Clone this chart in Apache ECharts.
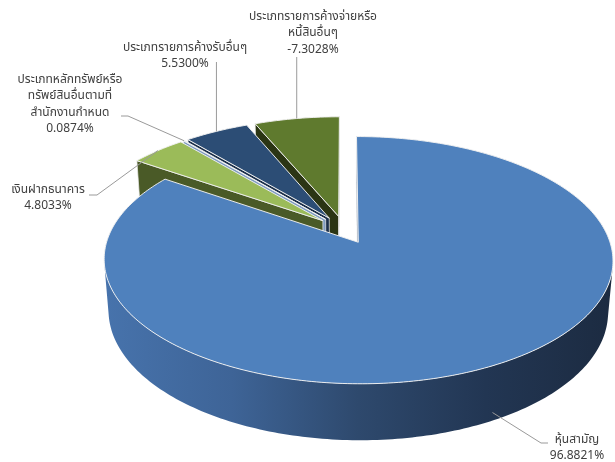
<!DOCTYPE html>
<html>
<head>
<meta charset="utf-8">
<script src="https://cdn.jsdelivr.net/npm/echarts@6/dist/echarts.min.js"></script>
<style>
  html, body { margin: 0; padding: 0; background: #ffffff; }
  #chart { width: 615px; height: 462px; }
</style>
</head>
<body>
<div id="chart"></div>
<script>
// Portfolio composition (percent of net asset value), clockwise from 12 o'clock
const categories = [
  'หุ้นสามัญ',
  'เงินฝากธนาคาร',
  'ประเภทหลักทรัพย์หรือทรัพย์สินอื่นตามที่สำนักงานกำหนด',
  'ประเภทรายการค้างรับอื่นๆ',
  'ประเภทรายการค้างจ่ายหรือหนี้สินอื่นๆ'
];
const values = [96.8821, 4.8033, 0.0874, 5.5300, -7.3028];
const labelNames = [
  'หุ้นสามัญ',
  'เงินฝากธนาคาร',
  'ประเภทหลักทรัพย์หรือ\nทรัพย์สินอื่นตามที่\nสำนักงานกำหนด',
  'ประเภทรายการค้างรับอื่นๆ',
  'ประเภทรายการค้างจ่ายหรือ\nหนี้สินอื่นๆ'
];

// Slice styling
const topColors  = ['#4F81BD', '#9BBB59', '#B9CDE5', '#2C4D75', '#5F7A2E'];
const sideColors = ['#2F4B70', '#4A5A27', '#7F9CC0', '#1B2F4A', '#2B3514'];
const wallShade = [
  ['#4773AC', '#3E6497', '#2E496D', '#223653', '#1C2B41'],
  null, null, null, null
];

// Perspective camera for the tilted disc (unit radius)
const CAM = { cx: 344.4, cy: 229.8, f: 1530, D: 6.17, sinT: 0.4736, cosT: 0.881, H: 0.235, explode: 0.118 };
const camPos = { x: 0, h: CAM.D * CAM.sinT, z: -CAM.D * CAM.cosT };

// Label placement: text block (centre x, top y) and leader elbow points
const labelLayout = [
  { x: 577, y: 432, elbow: [[541, 443], [548, 443]] },
  { x: 48,  y: 182, elbow: [[97, 195], [89, 195]] },
  { x: 70,  y: 72,  elbow: [[128, 116], [121, 116]] },
  { x: 185, y: 40,  upTo: 62 },
  { x: 313, y: 9,   upTo: 57 }
];
// back-to-front painting order
const drawOrder = [4, 3, 2, 1, 0];

function proj(x, z, h) {
  const d = CAM.D - h * CAM.sinT + z * CAM.cosT;
  return [CAM.cx + CAM.f * x / d, CAM.cy - CAM.f * (h * CAM.cosT + z * CAM.sinT) / d];
}
function facing(n, p) {
  return n[0] * (camPos.x - p[0]) + n[1] * (camPos.h - p[1]) + n[2] * (camPos.z - p[2]) > 0;
}

// slice angles from the absolute values
const absVals = values.map(v => Math.abs(v));
const total = absVals.reduce((a, b) => a + b, 0);
const angles = [];
{
  let acc = 0;
  absVals.forEach(v => {
    const a0 = acc / total * Math.PI * 2;
    acc += v;
    angles.push([a0, acc / total * Math.PI * 2]);
  });
}

function renderItem(params, api) {
  const i = api.value(1);
  const rank = params.dataIndex;
  const [a0, a1] = angles[i];
  const mid = (a0 + a1) / 2;
  const ox = CAM.explode * Math.sin(mid), oz = CAM.explode * Math.cos(mid);
  const H = CAM.H;
  const children = [];
  const base = rank * 10;
  const rim = (th, h) => proj(ox + Math.sin(th), oz + Math.cos(th), h);

  // outer wall: contiguous front-facing runs merged into single shapes
  const span = a1 - a0;
  const nSeg = Math.max(1, Math.ceil(span / (Math.PI / 180)));
  const runs = [];
  let cur = null;
  for (let k = 0; k < nSeg; k++) {
    const ta = a0 + span * k / nSeg, tb = a0 + span * (k + 1) / nSeg, tm = (ta + tb) / 2;
    const n = [Math.sin(tm), 0, Math.cos(tm)];
    const p = [ox + Math.sin(tm), -H / 2, oz + Math.cos(tm)];
    if (facing(n, p)) {
      if (!cur) { cur = [ta]; runs.push(cur); }
      cur.push(tb);
    } else cur = null;
  }
  runs.forEach(run => {
    const topEdge = run.map(t => rim(t, 0));
    const botEdge = run.map(t => rim(t, -H)).reverse();
    const pts = topEdge.concat(botEdge);
    const xs = pts.map(p => p[0]);
    const minX = Math.min.apply(null, xs), maxX = Math.max.apply(null, xs);
    let fill = sideColors[i];
    if (wallShade[i]) {
      const stops = wallShade[i];
      fill = {
        type: 'linear', global: true, x: minX, y: 0, x2: maxX, y2: 0,
        colorStops: stops.map((c, k) => ({ offset: k / (stops.length - 1), color: c }))
      };
    }
    children.push({
      type: 'polygon', z2: base + 1,
      shape: { points: pts },
      style: { fill: fill, stroke: null }
    });
  });
  // radial cut faces
  [[a0, [-Math.cos(a0), 0, Math.sin(a0)]], [a1, [Math.cos(a1), 0, -Math.sin(a1)]]].forEach(([th, n]) => {
    const p = [ox + 0.5 * Math.sin(th), -H / 2, oz + 0.5 * Math.cos(th)];
    if (!facing(n, p)) return;
    children.push({
      type: 'polygon', z2: base + 2,
      shape: { points: [proj(ox, oz, 0), rim(th, 0), rim(th, -H), proj(ox, oz, -H)] },
      style: { fill: sideColors[i], stroke: 'rgba(235,235,235,0.9)', lineWidth: 0.8 }
    });
  });
  // top face
  const topPts = [proj(ox, oz, 0)];
  const nTop = Math.max(2, Math.ceil(span / (Math.PI / 180)));
  for (let k = 0; k <= nTop; k++) topPts.push(rim(a0 + span * k / nTop, 0));
  children.push({
    type: 'polygon', z2: base + 3,
    shape: { points: topPts },
    style: { fill: topColors[i], stroke: 'rgba(240,240,240,0.95)', lineWidth: 1 }
  });

  // label and leader line
  const lay = labelLayout[i];
  const anchor = i === 0 ? rim(mid, -0.85 * H) : rim(mid, 0);
  const leader = lay.upTo !== undefined ? [anchor, [anchor[0], lay.upTo]] : [anchor].concat(lay.elbow);
  children.push({
    type: 'polyline', z2: 200,
    shape: { points: leader },
    style: { stroke: '#9a9a9a', lineWidth: 1, fill: null }
  });
  children.push({
    type: 'text', z2: 201,
    style: {
      text: labelNames[i] + '\n' + values[i].toFixed(4) + '%',
      x: lay.x, y: lay.y,
      align: 'center', verticalAlign: 'top',
      fill: '#404040', fontSize: 12, lineHeight: 16.5,
      fontFamily: '"Noto Sans Thai", Tahoma, "Noto Sans", sans-serif'
    }
  });
  return { type: 'group', children };
}

const chart = echarts.init(document.getElementById('chart'), null, { renderer: 'canvas' });
chart.setOption({
  backgroundColor: '#ffffff',
  animation: false,
  series: [{
    type: 'custom',
    coordinateSystem: 'none',
    silent: true,
    renderItem: renderItem,
    data: drawOrder.map(i => ({ name: categories[i], value: [absVals[i], i] }))
  }]
});
</script>
</body>
</html>
